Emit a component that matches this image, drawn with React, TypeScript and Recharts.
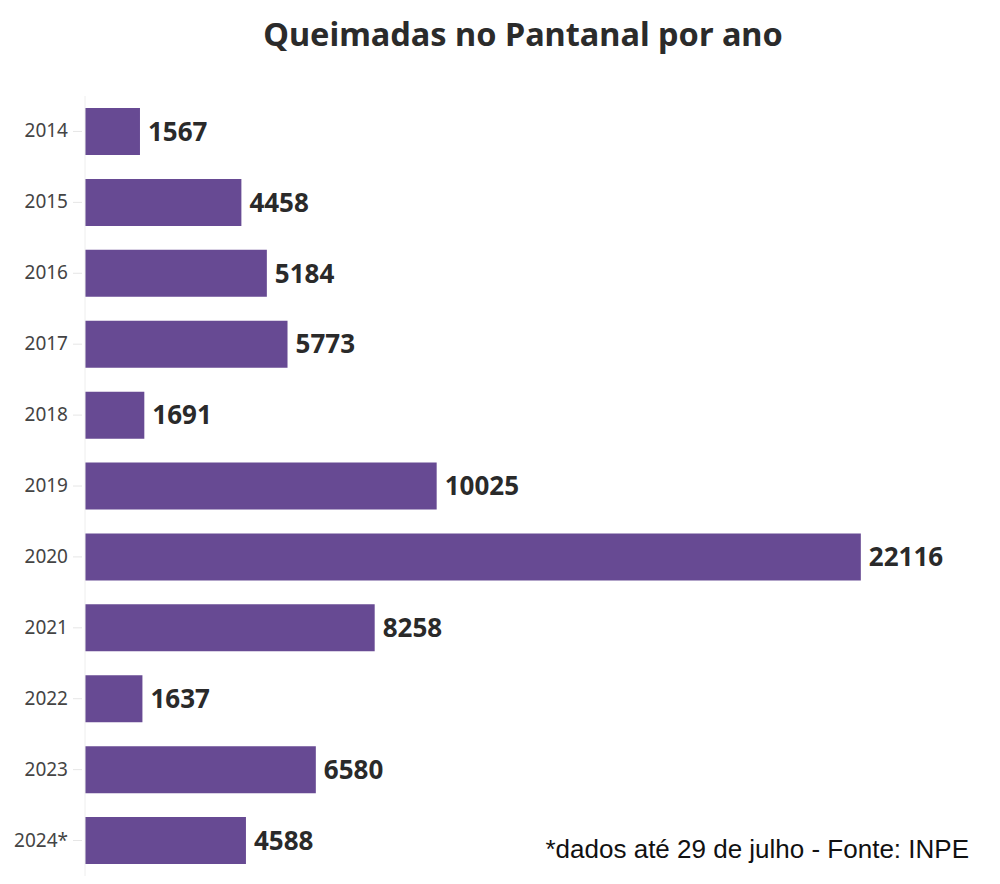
import React from 'react';
import { BarChart, Bar, XAxis, YAxis, LabelList } from 'recharts';

const years = ['2014', '2015', '2016', '2017', '2018', '2019', '2020', '2021', '2022', '2023', '2024*'];
const fires = [1567, 4458, 5184, 5773, 1691, 10025, 22116, 8258, 1637, 6580, 4588];

const data = years.map((year, i) => ({ year, fires: fires[i] }));

const FONT = '"Noto Sans", sans-serif';

function YearTick(props: any) {
  const { x, y, payload } = props;
  return (
    <g>
      <line x1={x - 4} x2={x + 5} y1={y} y2={y} stroke="#e6e6e6" strokeWidth={1} />
      <text x={x - 9} y={y} dy={6} textAnchor="end" fill="#444" fontSize={19} fontFamily={FONT}>
        {payload.value}
      </text>
    </g>
  );
}

export default function App() {
  return (
    <div style={{ position: 'absolute', left: 0, top: 0, width: 1000, height: 884, background: '#fff' }}>
      <div
        style={{
          position: 'absolute',
          left: 0,
          width: 1046,
          top: 11,
          textAlign: 'center',
          fontFamily: FONT,
          fontWeight: 700,
          fontSize: 32.5,
          color: '#2b2b2b',
        }}
      >
        Queimadas no Pantanal por ano
      </div>
      <BarChart
        width={1000}
        height={884}
        data={data}
        layout="vertical"
        margin={{ top: 96, right: 38, bottom: 8, left: 0 }}
      >
        <XAxis type="number" domain={[0, 25000]} hide />
        <YAxis
          type="category"
          dataKey="year"
          width={85}
          tickLine={false}
          axisLine={{ stroke: '#eeeeee' }}
          tick={<YearTick />}
          interval={0}
        />
        <Bar dataKey="fires" fill="#674a93" barSize={47} isAnimationActive={false}>
          <LabelList
            dataKey="fires"
            position="right"
            offset={8}
            fill="#2a2a2a"
            fontSize={26}
            fontWeight={700}
            fontFamily={FONT}
          />
        </Bar>
      </BarChart>
      <div
        style={{
          position: 'absolute',
          right: 31,
          top: 834,
          fontFamily: '"Liberation Sans", Arial, sans-serif',
          fontSize: 26,
          color: '#111',
        }}
      >
        *dados até 29 de julho - Fonte: INPE
      </div>
    </div>
  );
}
